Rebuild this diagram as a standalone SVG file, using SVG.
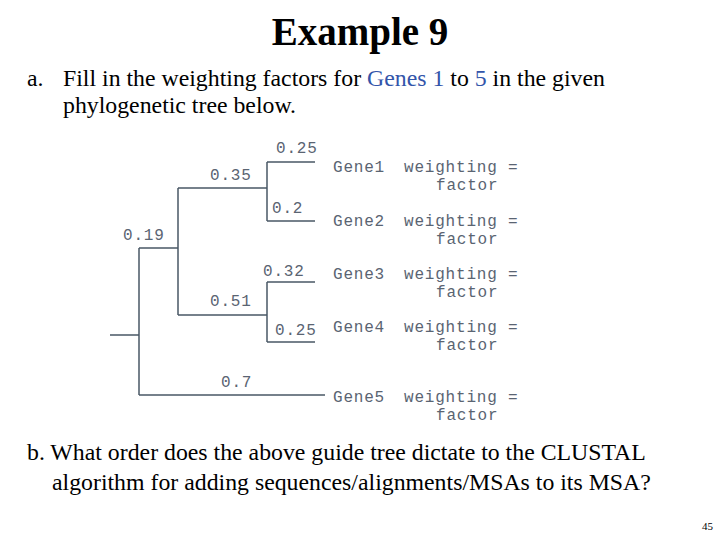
<svg xmlns="http://www.w3.org/2000/svg" width="720" height="540" viewBox="0 0 720 540">
<style>
.t{font-family:"Liberation Serif",serif;fill:#000}
.m{font-family:"Liberation Mono",monospace;font-size:16px;letter-spacing:0.8px;fill:#5a6472}
.l{stroke:#4a5866;stroke-width:1.5;fill:none}
</style>
<rect width="720" height="540" fill="#fff"/>
<text class="t" x="360" y="45" font-size="39" font-weight="bold" text-anchor="middle">Example 9</text>
<text class="t" x="27" y="86" font-size="23.8">a.</text>
<text class="t" x="63" y="86" font-size="23.8">Fill in the weighting factors for <tspan fill="#3355aa">Genes 1</tspan> to <tspan fill="#3355aa">5</tspan> in the given</text>
<text class="t" x="63" y="113" font-size="23.8">phylogenetic tree below.</text>
<g id="connectors" class="l">
<path d="M110 335H139M139 248V395M139 395H325M139 248H178M178 188V315M178 188H267M267 162V221M267 162H315M267 221H315M178 315H267M267 282V342M267 282H315M267 342H315"/>
</g>
<g id="branch-labels">
<text class="m" x="276" y="153">0.25</text>
<text class="m" x="210" y="180">0.35</text>
<text class="m" x="272" y="213">0.2</text>
<text class="m" x="123" y="240">0.19</text>
<text class="m" x="263" y="276">0.32</text>
<text class="m" x="210" y="306">0.51</text>
<text class="m" x="275" y="335">0.25</text>
<text class="m" x="221" y="387">0.7</text>
</g>
<g id="gene1"><text class="m" x="333" y="172">Gene1</text><text class="m" x="404" y="172">weighting =</text><text class="m" x="436" y="190">factor</text></g>
<g id="gene2"><text class="m" x="333" y="226">Gene2</text><text class="m" x="404" y="226">weighting =</text><text class="m" x="436" y="244">factor</text></g>
<g id="gene3"><text class="m" x="333" y="279">Gene3</text><text class="m" x="404" y="279">weighting =</text><text class="m" x="436" y="297">factor</text></g>
<g id="gene4"><text class="m" x="333" y="332">Gene4</text><text class="m" x="404" y="332">weighting =</text><text class="m" x="436" y="350">factor</text></g>
<g id="gene5"><text class="m" x="333" y="402">Gene5</text><text class="m" x="404" y="402">weighting =</text><text class="m" x="436" y="420">factor</text></g>
<text class="t" x="27" y="460" font-size="23.8">b. What order does the above guide tree dictate to the CLUSTAL</text>
<text class="t" x="52" y="490" font-size="23.8">algorithm for adding sequences/alignments/MSAs to its MSA?</text>
<text class="t" x="713" y="530" font-size="11" text-anchor="end">45</text>
</svg>
